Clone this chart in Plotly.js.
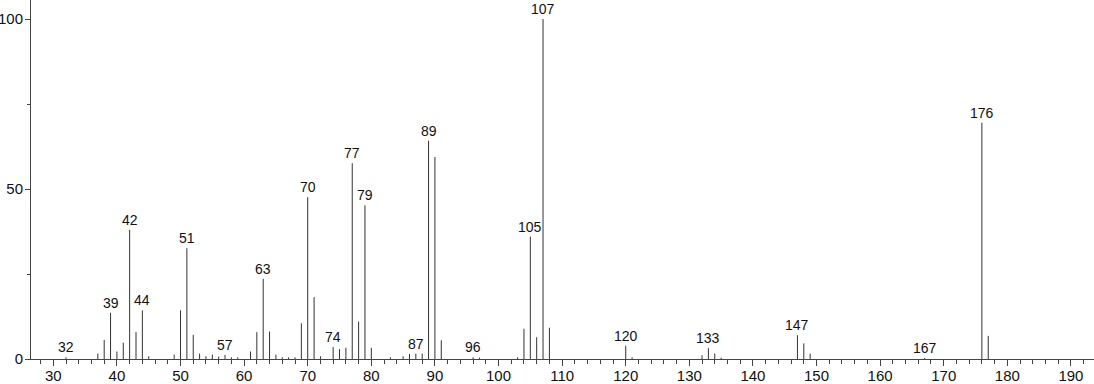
<!DOCTYPE html>
<html>
<head>
<meta charset="utf-8">
<script src="https://cdn.plot.ly/plotly-3.0.1.min.js"></script>
<style>html,body{margin:0;padding:0;background:#fff;}#chart{width:1094px;height:384px;}</style>
</head>
<body>
<div id="chart"></div>
<script>
// m/z values and relative intensities
const mz = [32, 37, 38, 39, 40, 41, 42, 43, 44, 45, 49, 50, 51, 52, 53, 54, 55, 56, 57, 58, 59,
  61, 62, 63, 64, 65, 66, 67, 68, 69, 70, 71, 72, 74, 75, 76, 77, 78, 79, 80, 83, 85, 86, 87, 88,
  89, 90, 91, 96, 97, 103, 104, 105, 106, 107, 108, 120, 121, 132, 133, 134, 135, 147, 148, 149,
  167, 176, 177];
const intensity = [0.5, 1.6, 5.6, 13.6, 2.2, 4.8, 38.0, 7.9, 14.3, 0.8, 1.3, 14.3, 32.6, 7.1, 1.6, 0.8, 1.3, 0.7, 1.2, 0.5, 0.5,
  2.2, 7.9, 23.6, 8.1, 1.3, 0.5, 0.5, 0.5, 10.5, 47.6, 18.2, 0.8, 3.5, 2.9, 3.3, 57.6, 11.0, 45.2, 3.3, 0.5, 0.8, 1.5, 1.6, 1.6,
  64.2, 59.4, 5.5, 0.5, 0.4, 0.5, 8.9, 36.0, 6.4, 100, 9.2, 3.9, 0.5, 1.1, 3.2, 1.6, 0.4, 7.0, 4.6, 1.6,
  0.3, 69.5, 6.8];
// peaks that carry a label
const labeled = [32, 39, 42, 44, 51, 57, 63, 70, 74, 77, 79, 87, 89, 96, 105, 107, 120, 133, 147, 167, 176];
const xTicks = [30, 40, 50, 60, 70, 80, 90, 100, 110, 120, 130, 140, 150, 160, 170, 180, 190];
const yTicks = [0, 50, 100];

const xs = [], ys = [];
mz.forEach((m, i) => { xs.push(m, m, null); ys.push(0, intensity[i], null); });

const FONT = 'Liberation Sans, Arial, Helvetica, sans-serif';
const annotations = labeled.map(m => ({
  x: m, y: intensity[mz.indexOf(m)], text: String(m), showarrow: false,
  xanchor: 'center', yanchor: 'bottom', yshift: 0,
  font: {size: 14, color: '#111', family: FONT}
}));

const trace = {x: xs, y: ys, type: 'scatter', mode: 'lines',
  line: {color: '#333', width: 1}, hoverinfo: 'skip', showlegend: false};

const layout = {
  width: 1094, height: 384,
  margin: {l: 31, r: 0, t: 0, b: 25, pad: 0},
  paper_bgcolor: '#fff', plot_bgcolor: '#fff',
  font: {family: FONT, size: 15, color: '#111'},
  showlegend: false,
  xaxis: {range: [26.49, 193.63], tickvals: xTicks, ticktext: xTicks.map(String),
    ticks: 'outside', ticklen: 6, tickwidth: 1, tickcolor: '#444', ticklabelstandoff: -3,
    showline: true, linecolor: '#444', linewidth: 1, showgrid: false, zeroline: false,
    minor: {dtick: 2, tick0: 0, ticks: 'outside', ticklen: 4, tickcolor: '#444', showgrid: false},
    tickfont: {size: 15, color: '#111', family: FONT}, fixedrange: true},
  yaxis: {range: [0, 105.6], tickvals: yTicks, ticktext: yTicks.map(String),
    ticks: 'outside', ticklen: 5, tickwidth: 1, tickcolor: '#444', ticklabelstandoff: -1,
    showline: true, linecolor: '#444', linewidth: 1, showgrid: false, zeroline: false,
    minor: {dtick: 25, tick0: 0, ticks: 'outside', ticklen: 3, tickcolor: '#444', showgrid: false},
    tickfont: {size: 15, color: '#111', family: FONT}, fixedrange: true},
  annotations: annotations
};

Plotly.newPlot('chart', [trace], layout, {staticPlot: true, displayModeBar: false});
</script>
</body>
</html>
